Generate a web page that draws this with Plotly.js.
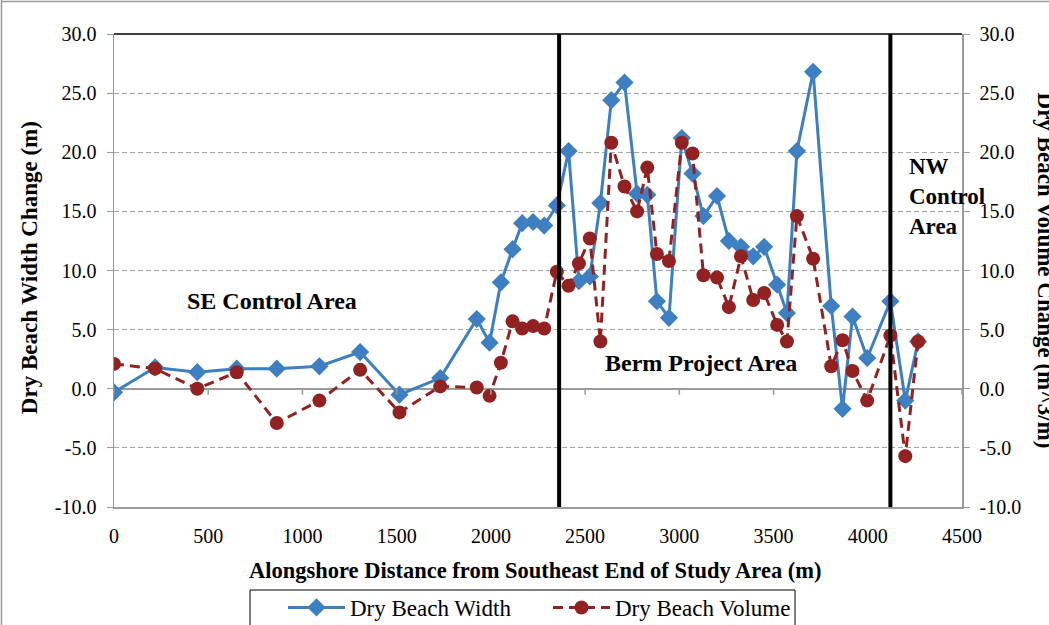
<!DOCTYPE html>
<html>
<head>
<meta charset="utf-8">
<script src="https://cdn.plot.ly/plotly-3.0.1.min.js"></script>
<style>html,body{margin:0;padding:0;background:#fff;}#chart{width:1049px;height:625px;}</style>
</head>
<body>
<div id="chart"></div>
<script>
// Alongshore distance (m)
const distance = [0, 218, 442, 651, 864, 1090, 1306, 1515, 1731, 1925, 1993, 2053, 2115, 2166, 2224, 2283, 2350,
  2412, 2467, 2525, 2581, 2639, 2709, 2776, 2830, 2881, 2945, 3013, 3070, 3128, 3200, 3263, 3327, 3392, 3450,
  3519, 3571, 3624, 3710, 3806, 3866, 3919, 3997, 4120, 4199, 4267];
// Dry beach width change (m)
const widthChange = [-0.3, 1.8, 1.4, 1.7, 1.7, 1.9, 3.1, -0.5, 0.9, 5.9, 3.9, 9.0, 11.8, 14.0, 14.1, 13.8, 15.5,
  20.1, 9.1, 9.5, 15.7, 24.4, 25.9, 16.5, 16.4, 7.4, 6.0, 21.2, 18.2, 14.6, 16.3, 12.5, 12.0, 11.2, 12.0,
  8.8, 6.4, 20.1, 26.8, 7.0, -1.7, 6.1, 2.6, 7.4, -1.0, 4.0];
// Dry beach volume change (m^3/m)
const volumeChange = [2.1, 1.7, 0.0, 1.4, -2.9, -1.0, 1.6, -2.0, 0.2, 0.1, -0.6, 2.2, 5.7, 5.1, 5.3, 5.1, 9.9,
  8.7, 10.6, 12.7, 4.0, 20.8, 17.1, 15.0, 18.7, 11.4, 10.8, 20.8, 19.9, 9.6, 9.4, 6.9, 11.2, 7.5, 8.1,
  5.4, 4.0, 14.6, 11.0, 1.9, 4.1, 1.5, -1.0, 4.5, -5.7, 4.0];
// Area boundaries (m)
const boundaries = [2362, 4120];
const seriesNames = ["Dry Beach Width", "Dry Beach Volume"];
const xTicks = [0, 500, 1000, 1500, 2000, 2500, 3000, 3500, 4000, 4500];
const yTicks = [-10, -5, 0, 5, 10, 15, 20, 25, 30];
const yTickText = ["-10.0", "-5.0", "0.0", "5.0", "10.0", "15.0", "20.0", "25.0", "30.0"];

const FONT = "'Liberation Serif', 'Times New Roman', serif";
const GRID = "#a6a6a6";

const traces = [
  {
    x: distance, y: widthChange, name: seriesNames[0], type: "scatter", mode: "lines+markers",
    line: {color: "#3d7fc1", width: 3},
    marker: {symbol: "diamond", size: 14, color: "#3d7fc1"}
  },
  {
    x: distance, y: volumeChange, name: seriesNames[1], type: "scatter", mode: "lines+markers",
    yaxis: "y2",
    line: {color: "#922222", width: 3, dash: "10px,6px"},
    marker: {symbol: "circle", size: 14, color: "#922222"}
  }
];

const shapes = boundaries.map(b => ({
  type: "line", xref: "x", yref: "paper", x0: b, x1: b, y0: 0, y1: 1,
  line: {color: "#000", width: 4}
}));
// x tick marks where the horizontal axis crosses at zero
xTicks.forEach(t => shapes.push({
  type: "line", xref: "x", yref: "y", ysizemode: "pixel", yanchor: 0,
  x0: t, x1: t, y0: 0, y1: -6, line: {color: "#9a9a9a", width: 1.5}
}));
// top border of plot area
shapes.push({type: "line", xref: "paper", yref: "paper", x0: 0, x1: 1, y0: 1, y1: 1, line: {color: "#000", width: 1.5}});
// outer chart frame (top & left)
shapes.push({type: "line", xref: "paper", yref: "paper", x0: -0.1327, x1: -0.1327, y0: -0.25, y1: 1.072, line: {color: "#999", width: 1.5}});
shapes.push({type: "line", xref: "paper", yref: "paper", x0: -0.1327, x1: 1.103, y0: 1.0687, y1: 1.0687, line: {color: "#999", width: 1.5}});
// legend box
shapes.push({type: "rect", xref: "paper", yref: "paper", x0: 0.1604, x1: 0.8031, y0: -0.1755, y1: -0.285,
  line: {color: "#000", width: 1}, fillcolor: "rgba(0,0,0,0)"});

const annBold = {family: FONT, size: 24, color: "#000"};
const annotations = [
  {x: 840, y: 7.4, xref: "x", yref: "y", text: "<b>SE Control Area</b>", showarrow: false, font: annBold, xanchor: "center", yanchor: "middle"},
  {x: 3116, y: 2.2, xref: "x", yref: "y", text: "<b>Berm Project Area</b>", showarrow: false, font: annBold, xanchor: "center", yanchor: "middle"},
  {x: 4210, y: 16.3, xref: "x", yref: "y", text: "<b>NW<br>Control<br>Area</b>", showarrow: false, font: {family: FONT, size: 23, color: "#000"}, xanchor: "left", yanchor: "middle", align: "left"},
  {x: 0.4976, y: -0.1353, xref: "paper", yref: "paper", text: "<b>Alongshore Distance from Southeast End of Study Area (m)</b>", showarrow: false,
   font: {family: FONT, size: 22.5, color: "#000"}, xanchor: "center", yanchor: "middle"},
  {x: -0.1002, y: 0.505, xref: "paper", yref: "paper", text: "<b>Dry Beach Width Change (m)</b>", showarrow: false, textangle: -90,
   font: {family: FONT, size: 23, color: "#000"}, xanchor: "center", yanchor: "middle"},
  {x: 1.099, y: 0.5, xref: "paper", yref: "paper", text: "<b>Dry Beach Volume Change (m^3/m)</b>", showarrow: false, textangle: 90,
   font: {family: FONT, size: 23, color: "#000"}, xanchor: "center", yanchor: "middle"}
];

const layout = {
  width: 1049, height: 625,
  margin: {l: 114, r: 87, t: 34, b: 118, autoexpand: false},
  paper_bgcolor: "#fff", plot_bgcolor: "#fff",
  font: {family: FONT, size: 20, color: "#000"},
  showlegend: true,
  legend: {
    orientation: "h", x: 0.1993, xanchor: "left", y: -0.167, yanchor: "top",
    borderwidth: 0, bgcolor: "rgba(0,0,0,0)",
    font: {family: FONT, size: 23, color: "#000"},
    itemwidth: 57,
    entrywidth: 193, entrywidthmode: "pixels"
  },
  xaxis: {
    range: [0, 4500], tickvals: xTicks, ticktext: xTicks.map(String),
    showgrid: false, zeroline: false, showline: true, linecolor: "#9a9a9a", linewidth: 1.5,
    ticks: "", ticklabelstandoff: 10, tickfont: {family: FONT, size: 20}
  },
  yaxis: {
    range: [-10, 30], tickvals: yTicks, ticktext: yTickText,
    showgrid: true, gridcolor: GRID, griddash: "5px,3px", gridwidth: 1,
    zeroline: true, zerolinecolor: "#9a9a9a", zerolinewidth: 1.5,
    showline: true, linecolor: "#9a9a9a", linewidth: 1.5,
    ticks: "outside", ticklen: 6, tickcolor: "#9a9a9a", ticklabelstandoff: 6,
    tickfont: {family: FONT, size: 20}
  },
  yaxis2: {
    range: [-10, 30], tickvals: yTicks, ticktext: yTickText, overlaying: "y", side: "right",
    showgrid: false, zeroline: false,
    showline: true, linecolor: "#9a9a9a", linewidth: 1.5,
    ticks: "outside", ticklen: 6, tickcolor: "#9a9a9a", ticklabelstandoff: 6,
    tickfont: {family: FONT, size: 20}
  },
  shapes: shapes,
  annotations: annotations
};

Plotly.newPlot("chart", traces, layout, {displayModeBar: false, staticPlot: true});
</script>
</body>
</html>
